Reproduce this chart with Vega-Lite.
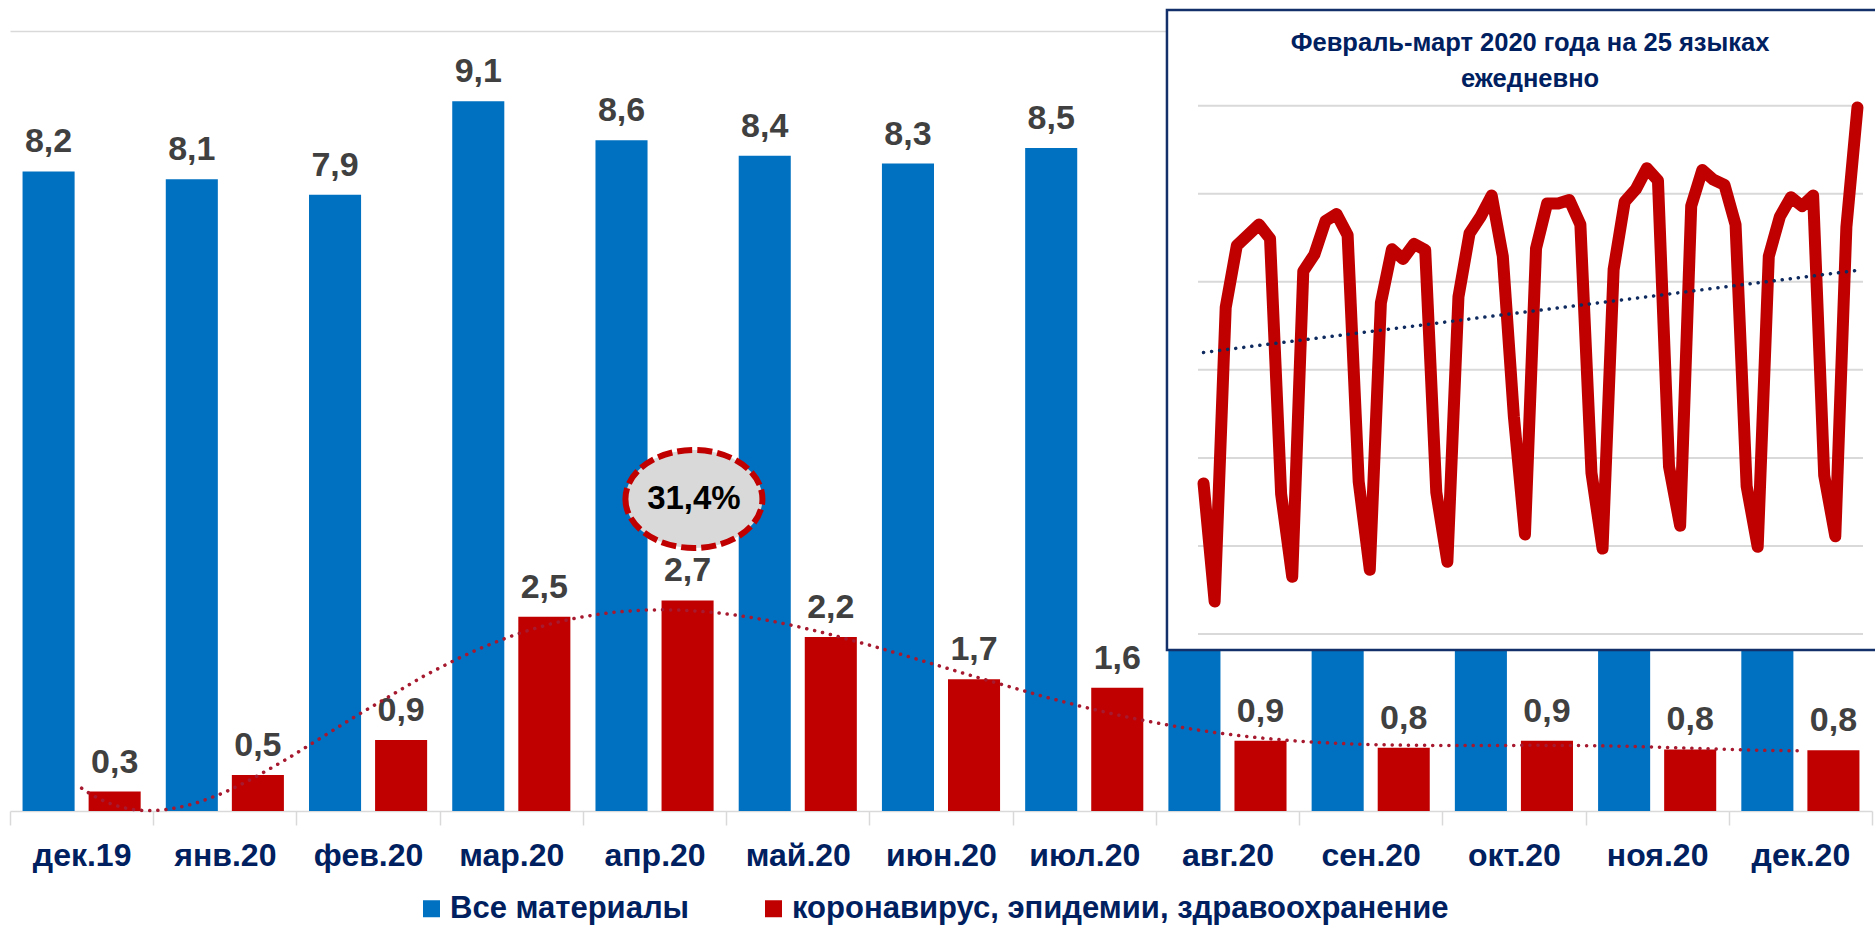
{
  "$schema": "https://vega.github.io/schema/vega-lite/v6.json",
  "width": 1862,
  "height": 780,
  "autosize": {"type": "none"},
  "padding": {"left": 10, "top": 31, "right": 3, "bottom": 117},
  "background": "white",
  "config": {
    "view": {"stroke": null},
    "font": "Liberation Sans",
    "locale": {"number": {"decimal": ",", "thousands": " ", "grouping": [3], "currency": ["", " ₽"]}}
  },
  "datasets": {
    "bars": [
      {"month": "дек.19", "i": 0, "series": "Все материалы", "value": 8.2},
      {"month": "янв.20", "i": 1, "series": "Все материалы", "value": 8.1},
      {"month": "фев.20", "i": 2, "series": "Все материалы", "value": 7.9},
      {"month": "мар.20", "i": 3, "series": "Все материалы", "value": 9.1},
      {"month": "апр.20", "i": 4, "series": "Все материалы", "value": 8.6},
      {"month": "май.20", "i": 5, "series": "Все материалы", "value": 8.4},
      {"month": "июн.20", "i": 6, "series": "Все материалы", "value": 8.3},
      {"month": "июл.20", "i": 7, "series": "Все материалы", "value": 8.5},
      {"month": "авг.20", "i": 8, "series": "Все материалы", "value": 8.6},
      {"month": "сен.20", "i": 9, "series": "Все материалы", "value": 8.2},
      {"month": "окт.20", "i": 10, "series": "Все материалы", "value": 8.7},
      {"month": "ноя.20", "i": 11, "series": "Все материалы", "value": 8.4},
      {"month": "дек.20", "i": 12, "series": "Все материалы", "value": 8.1},
      {"month": "дек.19", "i": 0, "series": "коронавирус, эпидемии, здравоохранение", "value": 0.25},
      {"month": "янв.20", "i": 1, "series": "коронавирус, эпидемии, здравоохранение", "value": 0.46},
      {"month": "фев.20", "i": 2, "series": "коронавирус, эпидемии, здравоохранение", "value": 0.91},
      {"month": "мар.20", "i": 3, "series": "коронавирус, эпидемии, здравоохранение", "value": 2.49},
      {"month": "апр.20", "i": 4, "series": "коронавирус, эпидемии, здравоохранение", "value": 2.7},
      {"month": "май.20", "i": 5, "series": "коронавирус, эпидемии, здравоохранение", "value": 2.23},
      {"month": "июн.20", "i": 6, "series": "коронавирус, эпидемии, здравоохранение", "value": 1.69},
      {"month": "июл.20", "i": 7, "series": "коронавирус, эпидемии, здравоохранение", "value": 1.58},
      {"month": "авг.20", "i": 8, "series": "коронавирус, эпидемии, здравоохранение", "value": 0.9},
      {"month": "сен.20", "i": 9, "series": "коронавирус, эпидемии, здравоохранение", "value": 0.81},
      {"month": "окт.20", "i": 10, "series": "коронавирус, эпидемии, здравоохранение", "value": 0.9},
      {"month": "ноя.20", "i": 11, "series": "коронавирус, эпидемии, здравоохранение", "value": 0.79},
      {"month": "дек.20", "i": 12, "series": "коронавирус, эпидемии, здравоохранение", "value": 0.78}
    ],
    "daily": [
      {"day": 1, "v": 1.71}, {"day": 2, "v": 0.37}, {"day": 3, "v": 3.71}, {"day": 4, "v": 4.41},
      {"day": 5, "v": 4.53}, {"day": 6, "v": 4.65}, {"day": 7, "v": 4.49}, {"day": 8, "v": 1.59},
      {"day": 9, "v": 0.65}, {"day": 10, "v": 4.12}, {"day": 11, "v": 4.31}, {"day": 12, "v": 4.69},
      {"day": 13, "v": 4.77}, {"day": 14, "v": 4.53}, {"day": 15, "v": 1.73}, {"day": 16, "v": 0.73},
      {"day": 17, "v": 3.76}, {"day": 18, "v": 4.37}, {"day": 19, "v": 4.26}, {"day": 20, "v": 4.43},
      {"day": 21, "v": 4.36}, {"day": 22, "v": 1.61}, {"day": 23, "v": 0.82}, {"day": 24, "v": 3.83},
      {"day": 25, "v": 4.55}, {"day": 26, "v": 4.74}, {"day": 27, "v": 4.98}, {"day": 28, "v": 4.29},
      {"day": 29, "v": 2.47}, {"day": 30, "v": 1.13}, {"day": 31, "v": 4.38}, {"day": 32, "v": 4.89},
      {"day": 33, "v": 4.89}, {"day": 34, "v": 4.93}, {"day": 35, "v": 4.65}, {"day": 36, "v": 1.83},
      {"day": 37, "v": 0.97}, {"day": 38, "v": 4.14}, {"day": 39, "v": 4.91}, {"day": 40, "v": 5.05},
      {"day": 41, "v": 5.29}, {"day": 42, "v": 5.15}, {"day": 43, "v": 1.9}, {"day": 44, "v": 1.23},
      {"day": 45, "v": 4.86}, {"day": 46, "v": 5.27}, {"day": 47, "v": 5.16}, {"day": 48, "v": 5.1},
      {"day": 49, "v": 4.65}, {"day": 50, "v": 1.68}, {"day": 51, "v": 0.99}, {"day": 52, "v": 4.29},
      {"day": 53, "v": 4.74}, {"day": 54, "v": 4.96}, {"day": 55, "v": 4.86}, {"day": 56, "v": 4.98},
      {"day": 57, "v": 1.8}, {"day": 58, "v": 1.11}, {"day": 59, "v": 4.62}, {"day": 60, "v": 5.98}
    ],
    "grid": [{"g": 0}, {"g": 1}, {"g": 2}, {"g": 3}, {"g": 4}, {"g": 5}, {"g": 6}]
  },
  "layer": [
    {
      "data": {"name": "bars"},
      "encoding": {
        "x": {
          "field": "month", "type": "nominal", "sort": null,
          "scale": {"paddingInner": 0, "paddingOuter": 0},
          "axis": {
            "title": null, "labelAngle": 0, "labelFont": "Liberation Sans", "labelFontWeight": "bold",
            "labelFontSize": 32, "labelColor": "#002060", "labelPadding": 15, "tickBand": "extent",
            "tickSize": 14, "tickColor": "#d9d9d9", "tickWidth": 1.5, "domainColor": "#d9d9d9",
            "domainWidth": 1.5, "labelOverlap": false, "grid": false
          }
        },
        "xOffset": {
          "field": "series", "type": "nominal", "sort": null,
          "scale": {"domain": ["Все материалы", "коронавирус, эпидемии, здравоохранение"], "paddingInner": 0.212, "paddingOuter": 0.19}
        },
        "y": {
          "field": "value", "type": "quantitative",
          "scale": {"domain": [0, 10], "nice": false},
          "axis": {"values": [10], "grid": true, "gridColor": "#d9d9d9", "gridWidth": 1.5, "labels": false, "ticks": false, "domain": false, "title": null}
        }
      },
      "layer": [
        {
          "mark": {"type": "bar"},
          "encoding": {
            "color": {
              "field": "series", "type": "nominal",
              "scale": {"domain": ["Все материалы", "коронавирус, эпидемии, здравоохранение"], "range": ["#0070C0", "#C00000"]},
              "legend": {
                "orient": "none", "legendX": 406, "legendY": 862, "direction": "horizontal", "title": null,
                "symbolType": "square", "symbolSize": 289, "symbolStrokeWidth": 0, "symbolOpacity": 1,
                "labelFont": "Liberation Sans", "labelFontWeight": "bold", "labelFontSize": 31,
                "labelColor": "#002060", "labelLimit": 1000, "columnPadding": 68, "labelOffset": 3
              }
            }
          }
        },
        {
          "transform": [{"filter": "datum.series !== 'Все материалы' || datum.i < 8"}],
          "mark": {"type": "text", "baseline": "alphabetic", "dy": -19, "fontSize": 34, "fontWeight": "bold", "color": "#404040"},
          "encoding": {"text": {"field": "value", "type": "quantitative", "format": ".1f"}}
        }
      ]
    },
    {
      "layer": [
        {
          "data": {"name": "bars"},
          "transform": [
            {"filter": "datum.series === 'коронавирус, эпидемии, здравоохранение'"},
            {"regression": "value", "on": "i", "method": "poly", "order": 6, "extent": [0, 12]}
          ],
          "mark": {"type": "line", "color": "#a6192e", "strokeWidth": 3.5, "strokeDash": [0.1, 8], "strokeCap": "round"},
          "encoding": {
            "x": {"field": "i", "type": "quantitative", "scale": {"domain": [-0.5, 12.5], "nice": false, "zero": false}, "axis": null},
            "y": {"field": "value", "type": "quantitative", "scale": {"domain": [0, 10], "nice": false}, "axis": null}
          }
        },
        {
          "data": {"values": [{}]},
          "mark": {"type": "point", "shape": "M-1,0A1,0.715,0,1,0,1,0A1,0.715,0,1,0,-1,0Z", "size": 18769, "filled": true, "fill": "#d9d9d9", "stroke": "#c00000", "strokeWidth": 6, "strokeDash": [15, 5], "opacity": 1, "fillOpacity": 1, "strokeOpacity": 1},
          "encoding": {
            "x": {"datum": 4.275, "type": "quantitative", "scale": {"domain": [-0.5, 12.5], "nice": false, "zero": false}, "axis": null},
            "y": {"datum": 4.0, "type": "quantitative", "scale": {"domain": [0, 10], "nice": false}, "axis": null}
          }
        },
        {
          "data": {"values": [{}]},
          "mark": {"type": "text", "text": "31,4%", "fontSize": 33, "fontWeight": "bold", "color": "#000000", "baseline": "middle", "align": "center"},
          "encoding": {
            "x": {"datum": 4.275, "type": "quantitative", "scale": {"domain": [-0.5, 12.5], "nice": false, "zero": false}, "axis": null},
            "y": {"datum": 4.0, "type": "quantitative", "scale": {"domain": [0, 10], "nice": false}, "axis": null}
          }
        }
      ]
    },
    {
      "layer": [
        {
          "data": {"values": [{}]},
          "mark": {"type": "rect", "fill": "white", "stroke": "#14306a", "strokeWidth": 2.5},
          "encoding": {
            "x": {"datum": -2.3, "type": "quantitative", "scale": {"domain": [0.5, 60.5], "range": [1188, 1853], "nice": false, "zero": false}, "axis": null},
            "x2": {"datum": 64},
            "y": {"datum": -0.182, "type": "quantitative", "scale": {"domain": [0, 6], "range": [603, 74.7], "nice": false, "zero": false}, "axis": null},
            "y2": {"datum": 7.087}
          }
        },
        {
          "data": {"name": "grid"},
          "mark": {"type": "rule", "color": "#d9d9d9", "strokeWidth": 2},
          "encoding": {
            "x": {"datum": 0.5, "type": "quantitative", "scale": {"domain": [0.5, 60.5], "range": [1188, 1853], "nice": false, "zero": false}, "axis": null},
            "x2": {"datum": 60.5},
            "y": {"field": "g", "type": "quantitative", "scale": {"domain": [0, 6], "range": [603, 74.7], "nice": false, "zero": false}, "axis": null}
          }
        },
        {
          "data": {"name": "daily"},
          "mark": {"type": "line", "color": "#c00000", "strokeWidth": 12, "strokeJoin": "round", "strokeCap": "round"},
          "encoding": {
            "x": {"field": "day", "type": "quantitative", "scale": {"domain": [0.5, 60.5], "range": [1188, 1853], "nice": false, "zero": false}, "axis": null},
            "y": {"field": "v", "type": "quantitative", "scale": {"domain": [0, 6], "range": [603, 74.7], "nice": false, "zero": false}, "axis": null}
          }
        },
        {
          "data": {"name": "daily"},
          "transform": [{"regression": "v", "on": "day", "extent": [1, 60]}],
          "mark": {"type": "line", "color": "#0e2a5e", "strokeWidth": 3.5, "strokeDash": [0.1, 8], "strokeCap": "round"},
          "encoding": {
            "x": {"field": "day", "type": "quantitative", "scale": {"domain": [0.5, 60.5], "range": [1188, 1853], "nice": false, "zero": false}, "axis": null},
            "y": {"field": "v", "type": "quantitative", "scale": {"domain": [0, 6], "range": [603, 74.7], "nice": false, "zero": false}, "axis": null}
          }
        },
        {
          "data": {"values": [{}]},
          "mark": {"type": "text", "text": "Февраль-март 2020 года на 25 языках", "fontSize": 25.5, "fontWeight": "bold", "color": "#002060", "baseline": "middle", "align": "center"},
          "encoding": {
            "x": {"datum": 30.46, "type": "quantitative", "scale": {"domain": [0.5, 60.5], "range": [1188, 1853], "nice": false, "zero": false}, "axis": null},
            "y": {"datum": 6.71, "type": "quantitative", "scale": {"domain": [0, 6], "range": [603, 74.7], "nice": false, "zero": false}, "axis": null}
          }
        },
        {
          "data": {"values": [{}]},
          "mark": {"type": "text", "text": "ежедневно", "fontSize": 25.5, "fontWeight": "bold", "color": "#002060", "baseline": "middle", "align": "center"},
          "encoding": {
            "x": {"datum": 30.46, "type": "quantitative", "scale": {"domain": [0.5, 60.5], "range": [1188, 1853], "nice": false, "zero": false}, "axis": null},
            "y": {"datum": 6.3, "type": "quantitative", "scale": {"domain": [0, 6], "range": [603, 74.7], "nice": false, "zero": false}, "axis": null}
          }
        }
      ]
    }
  ],
  "resolve": {"scale": {"x": "independent", "y": "independent"}}
}
